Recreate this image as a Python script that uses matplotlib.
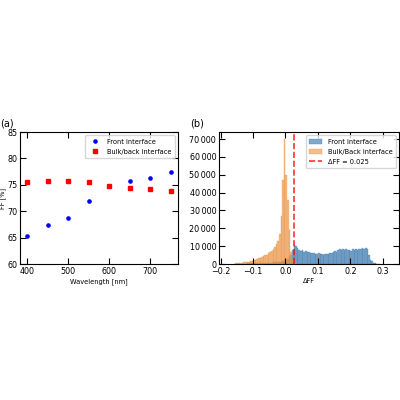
import matplotlib
matplotlib.use("Agg")
import matplotlib.pyplot as plt
import matplotlib.ticker as ticker
import numpy as np

# (a) fill factor vs wavelength
wl_front = [400, 450, 500, 550, 650, 700, 750]
ff_front = [65.3, 67.4, 68.7, 71.9, 75.7, 76.3, 77.4]
wl_bulk = [400, 450, 500, 550, 600, 650, 700, 750]
ff_bulk = [75.6, 75.8, 75.8, 75.5, 74.8, 74.4, 74.2, 73.9]

# (b) histogram of delta FF, bin width 0.005 (left edges)
bin_width = 0.005
bulk_edges = [-0.160, -0.155, -0.150, -0.145, -0.140, -0.135, -0.130, -0.125,
              -0.120, -0.115, -0.110, -0.105, -0.100, -0.095, -0.090, -0.085,
              -0.080, -0.075, -0.070, -0.065, -0.060, -0.055, -0.050, -0.045,
              -0.040, -0.035, -0.030, -0.025, -0.020, -0.015, -0.010, -0.005,
              0.000, 0.005, 0.010, 0.015, 0.020, 0.025, 0.030, 0.035]
bulk_counts = [200, 300, 400, 500, 600, 700, 900, 1000,
               1200, 1400, 1600, 1900, 2200, 2500, 2800, 3100,
               3500, 3900, 4300, 4800, 5300, 5900, 6600, 7400,
               8300, 9500, 11000, 13000, 17000, 27000, 47000, 70000,
               50000, 36000, 19000, 7000, 2500, 1000, 400, 200]

front_edges = [-0.150, -0.140, -0.130, -0.120, -0.110, -0.100, -0.090, -0.080,
               -0.070, -0.060, -0.050, -0.040, -0.030, -0.020, -0.010,
               0.000, 0.005, 0.010, 0.015, 0.020, 0.025, 0.030, 0.035, 0.040,
               0.045, 0.050, 0.055, 0.060, 0.065, 0.070, 0.075, 0.080, 0.085,
               0.090, 0.095, 0.100, 0.105, 0.110, 0.115, 0.120, 0.125, 0.130,
               0.135, 0.140, 0.145, 0.150, 0.155, 0.160, 0.165, 0.170, 0.175,
               0.180, 0.185, 0.190, 0.195, 0.200, 0.205, 0.210, 0.215, 0.220,
               0.225, 0.230, 0.235, 0.240, 0.245, 0.250, 0.255, 0.260, 0.265,
               0.270, 0.275, 0.280, 0.285]
front_counts = [300, 400, 500, 600, 700, 800, 900, 1000,
                1100, 1300, 1500, 1800, 2200, 2800, 3600,
                2500, 3000, 4000, 5000, 8000, 10500, 10000, 9000, 8000,
                7500, 7800, 7000, 7200, 6500, 6800, 6200, 6000, 6400,
                5800, 5600, 6000, 5400, 5600, 5200, 5600, 5400, 5800,
                6000, 6200, 6800, 7200, 7000, 7600, 8200, 8000, 8600,
                7800, 8200, 7600, 8000, 7400, 8200, 7800, 8400, 8000,
                8600, 8200, 8800, 8400, 8800, 8600, 5000, 2500, 1500,
                800, 400, 200, 100]
# far-left front bins are given per 0.01 at low density
front_w = [0.01 if e < 0 else bin_width for e in front_edges]
front_counts = [c / 2 if e < 0 else c for c, e in zip(front_counts, front_edges)]

dff = 0.025

plt.rcParams.update({"font.size": 5.5})

fig = plt.figure(figsize=(4, 4), dpi=100)
ax1 = fig.add_axes([0.05, 0.34, 0.395, 0.33])
ax2 = fig.add_axes([0.5475, 0.34, 0.45, 0.33])

ax1.plot(wl_front, ff_front, "o", color="b", ms=2.3, label="Front interface")
ax1.plot(wl_bulk, ff_bulk, "s", color="r", ms=2.3, label="Bulk/back interface")
ax1.set_ylim(60, 85)
ax1.set_xticks([400, 500, 600, 700])
ax1.set_yticks(np.arange(60, 86, 5))
ax1.set_xlabel("Wavelength [nm]", fontsize=4.8, labelpad=1.5)
ax1.set_ylabel("FF [%]", fontsize=4.8)
ax1.yaxis.set_label_coords(-0.088, 0.5)
ax1.legend(loc="upper right", fontsize=4.8, handletextpad=0.8,
           borderpad=0.5, labelspacing=0.6)

h_front = ax2.bar(front_edges, front_counts, width=front_w, align="edge",
                  color="#4a86b8", alpha=0.7, edgecolor="#3a74a4",
                  linewidth=0.3, label="Front interface")
h_bulk = ax2.bar(bulk_edges, bulk_counts, width=bin_width, align="edge",
                 color="#f39a4a", alpha=0.65, edgecolor="#d9853a",
                 linewidth=0.3, label="Bulk/Back interface")
h_line = ax2.axvline(dff, color="r", ls="--", lw=1.2, alpha=0.8,
                     label=f"ΔFF = {dff}")
ax2.set_xlim(-0.205, 0.35)
ax2.set_ylim(0, 74000)
ax2.set_xticks([-0.2, -0.1, 0.0, 0.1, 0.2, 0.3])
ax2.set_yticks(np.arange(0, 70001, 10000))
ax2.yaxis.set_major_formatter(
    ticker.FuncFormatter(lambda v, p: f"{int(v):,}".replace(",", "\u2009")))
ax2.set_xlabel("ΔFF", fontsize=4.8, labelpad=1.5)
ax2.legend(handles=[h_front, h_bulk, h_line], loc="upper right",
           fontsize=4.8, handletextpad=0.8, borderpad=0.5, labelspacing=0.6)

for ax in (ax1, ax2):
    ax.tick_params(direction="in", top=True, right=True, length=4,
                   width=0.8, labelsize=5.8, pad=2)

fig.text(0.0, 0.685, "(a)", fontsize=7)
fig.text(0.475, 0.685, "(b)", fontsize=7)

fig.savefig("out.png", dpi=100, facecolor="white")
